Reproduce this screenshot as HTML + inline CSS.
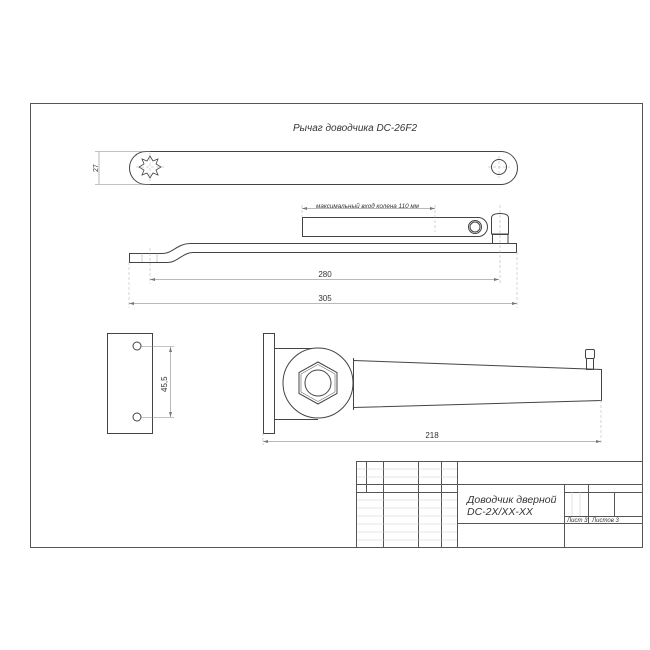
<!DOCTYPE html>
<html><head><meta charset="utf-8"><style>html,body{margin:0;padding:0;background:#fff}svg{display:block}</style></head>
<body>
<svg width="650" height="650" viewBox="0 0 650 650" xmlns="http://www.w3.org/2000/svg" font-family="Liberation Sans, sans-serif">
<rect width="650" height="650" fill="#fff"/>
<g fill="none" stroke="#555" stroke-width="1">
<rect x="30.5" y="103.5" width="612" height="444"/>
<rect x="356.5" y="461.5" width="286" height="86"/>
<line x1="356" y1="484.5" x2="642" y2="484.5"/>
<line x1="356" y1="492.5" x2="457" y2="492.5"/>
<line x1="564" y1="492.5" x2="642" y2="492.5"/>
<line x1="564" y1="516.5" x2="642" y2="516.5"/>
<line x1="457" y1="523.5" x2="642" y2="523.5"/>
<line x1="366.5" y1="461" x2="366.5" y2="492"/>
<line x1="383.5" y1="461" x2="383.5" y2="547"/>
<line x1="418.5" y1="461" x2="418.5" y2="547"/>
<line x1="441.5" y1="461" x2="441.5" y2="547"/>
<line x1="457.5" y1="461" x2="457.5" y2="547"/>
<line x1="564.5" y1="484" x2="564.5" y2="547"/>
<line x1="588.5" y1="484" x2="588.5" y2="523"/>
<line x1="614.5" y1="492" x2="614.5" y2="516"/>
</g>
<g stroke="#ccc" stroke-width="0.6">
<line x1="357" y1="469" x2="457" y2="469"/><line x1="357" y1="477" x2="457" y2="477"/>
<line x1="357" y1="500" x2="457" y2="500"/><line x1="357" y1="508" x2="457" y2="508"/>
<line x1="357" y1="516" x2="457" y2="516"/><line x1="357" y1="524" x2="457" y2="524"/>
<line x1="357" y1="532" x2="457" y2="532"/><line x1="357" y1="540" x2="457" y2="540"/>
<line x1="572" y1="492" x2="572" y2="516"/><line x1="580" y1="492" x2="580" y2="516"/>
</g>
<g font-style="italic" fill="#333">
<text x="467" y="503" font-size="10.5">Доводчик дверной</text>
<text x="467" y="515" font-size="10.5">DC-2X/XX-XX</text>
<text x="567" y="522" font-size="6">Лист 3</text>
<text x="592" y="522" font-size="6">Листов 3</text>
<text x="293" y="131" font-size="10">Рычаг доводчика DC-26F2</text>
<text x="316" y="208" font-size="6.3">максимальный вход колена 110 мм</text>
</g>
<g fill="none" stroke="#444" stroke-width="1">
<rect x="129.5" y="151.5" width="388" height="33" rx="16.5"/>
<circle cx="499" cy="167" r="7.5"/>
<polygon points="150,156 153,161 158,159 156,164 161,167 156,170 158,175 153,173 150,178 147,173 142,175 144,170 139,167 144,164 142,159 147,161" stroke-width="0.8"/>
</g>
<g stroke="#aaa" stroke-width="0.5" stroke-dasharray="3,2">
<line x1="136" y1="167" x2="165" y2="167"/><line x1="150" y1="153" x2="150" y2="181"/>
<line x1="488" y1="167" x2="510" y2="167"/><line x1="499" y1="156" x2="499" y2="178"/>
</g>
<g stroke="#888" stroke-width="0.6">
<line x1="95" y1="151.5" x2="150" y2="151.5"/><line x1="95" y1="184.5" x2="150" y2="184.5"/>
<line x1="99" y1="152" x2="99" y2="184"/>
</g>
<text x="0" y="0" font-size="7" fill="#333" transform="translate(98,172) rotate(-90)">27</text>
<g fill="none" stroke="#444" stroke-width="1">
<path d="M129.5,253.5 H163 C172,253.5 178,243.5 190,243.5 H516.5 V252.5 H193 C183,252.5 177,262.5 168,262.5 H129.5 Z"/>
<path d="M302.5,217.5 H478 A9,9 0 0 1 478,236.5 H302.5 Z"/>
<circle cx="475" cy="227" r="6.5"/><circle cx="475" cy="227" r="5"/>
<path d="M491.5,234 V218 Q491.5,213.5 500,213.5 Q508.5,213.5 508.5,218 V234 Z"/>
<rect x="492.5" y="234.5" width="15.5" height="9"/>
</g>
<g stroke="#999" stroke-width="0.5">
<line x1="142" y1="253" x2="142" y2="262"/><line x1="157" y1="253" x2="157" y2="262"/>
</g>
<g stroke="#aaa" stroke-width="0.5" stroke-dasharray="3,2">
<line x1="150" y1="248" x2="150" y2="284"/><line x1="500" y1="205" x2="500" y2="284"/>
<line x1="129" y1="262" x2="129" y2="308"/><line x1="517" y1="252" x2="517" y2="308"/>
<line x1="435" y1="205" x2="435" y2="232"/><line x1="302" y1="205" x2="302" y2="217"/>
</g>
<g stroke="#777" stroke-width="0.6">
<line x1="302" y1="208.5" x2="435" y2="208.5"/>
<line x1="150" y1="279.5" x2="499" y2="279.5"/>
<line x1="129" y1="303.5" x2="517" y2="303.5"/>
</g>
<g fill="#777">
<path d="M302,208.5 l5,-1.5 v3z"/><path d="M435,208.5 l-5,-1.5 v3z"/>
<path d="M150,279.5 l5,-1.5 v3z"/><path d="M499,279.5 l-5,-1.5 v3z"/>
<path d="M129,303.5 l5,-1.5 v3z"/><path d="M517,303.5 l-5,-1.5 v3z"/>
</g>
<text x="325" y="277" font-size="8" fill="#333" text-anchor="middle">280</text>
<text x="325" y="301" font-size="8" fill="#333" text-anchor="middle">305</text>
<g fill="none" stroke="#444" stroke-width="1">
<rect x="107.5" y="333.5" width="45" height="100"/>
<circle cx="137" cy="346" r="4"/><circle cx="137" cy="417" r="4"/>
</g>
<g stroke="#888" stroke-width="0.6">
<line x1="141" y1="346.5" x2="174" y2="346.5"/><line x1="141" y1="417.5" x2="174" y2="417.5"/>
<line x1="170.5" y1="347" x2="170.5" y2="417"/>
</g>
<path d="M170.5,347 l-1.5,5 h3z M170.5,417 l-1.5,-5 h3z" fill="#777"/>
<text x="0" y="0" font-size="8" fill="#333" transform="translate(167,392) rotate(-90)">45,5</text>
<g fill="none" stroke="#444" stroke-width="1">
<rect x="263.5" y="333.5" width="11" height="100"/>
<path d="M275,348.5 H318 M275,419.5 H318"/>
<path d="M353.5,360.5 L601.5,369.5 V400.5 L353.5,407.5 Z" fill="#fff"/>
<circle cx="318" cy="383" r="35" fill="#fff"/>
<polygon points="318,362 337,372.5 337,393.5 318,404 299,393.5 299,372.5"/>
<polygon points="318,364.5 335,374 335,392 318,401.5 301,392 301,374" stroke-width="0.5"/>
<circle cx="318" cy="383" r="13"/>
<line x1="353.5" y1="358" x2="353.5" y2="410"/>
<rect x="586.5" y="358.5" width="7" height="11"/>
<rect x="585.5" y="349.5" width="9" height="9" rx="1.5"/>
</g>
<g stroke="#aaa" stroke-width="0.5" stroke-dasharray="3,2">
<line x1="263" y1="433" x2="263" y2="445"/><line x1="601" y1="400" x2="601" y2="445"/>
</g>
<line x1="263" y1="441.5" x2="601" y2="441.5" stroke="#777" stroke-width="0.6"/>
<path d="M263,441.5 l5,-1.5 v3z M601,441.5 l-5,-1.5 v3z" fill="#777"/>
<text x="432" y="438" font-size="8" fill="#333" text-anchor="middle">218</text>
</svg>
</body></html>
